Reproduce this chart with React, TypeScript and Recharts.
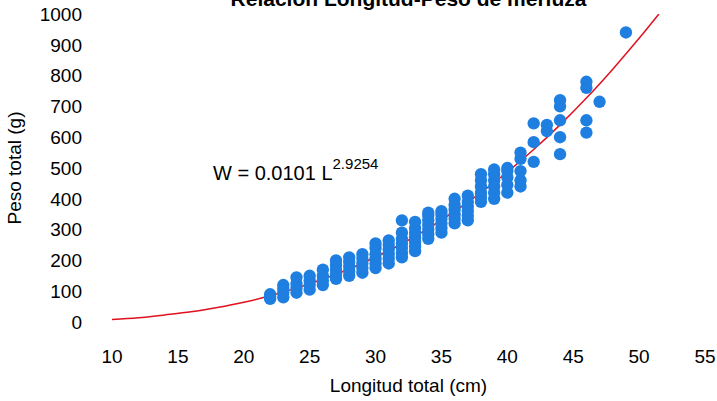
import { ComposedChart, Scatter, Line, XAxis, YAxis, ZAxis } from "recharts";

const lengths = [22, 23, 24, 25, 26, 27, 28, 29, 30, 31, 32, 33, 34, 35, 36, 37, 38, 39, 40, 41, 42, 43, 44, 46, 47, 49];
const weights: number[][] = [
  [75, 82, 90],
  [80, 95, 108, 120],
  [95, 110, 125, 145],
  [105, 120, 135, 150],
  [120, 135, 150, 170],
  [140, 155, 170, 185, 200],
  [150, 165, 180, 195, 210],
  [160, 175, 190, 205, 220],
  [175, 190, 205, 220, 240, 255],
  [190, 205, 220, 235, 250, 265],
  [210, 225, 240, 255, 270, 290, 330],
  [230, 245, 260, 275, 290, 305, 325],
  [270, 285, 300, 315, 330, 345, 355],
  [290, 305, 320, 335, 350, 360],
  [320, 335, 350, 365, 380, 400],
  [330, 345, 360, 375, 390, 410],
  [390, 405, 420, 440, 460, 480],
  [400, 420, 440, 460, 480, 495],
  [420, 445, 470, 490, 500],
  [440, 460, 490, 530, 550],
  [520, 584, 645],
  [620, 640],
  [545, 600, 655, 700, 720],
  [615, 655, 760, 780],
  [715],
  [940],
];
const points = lengths.flatMap((l, i) => weights[i].map((w) => ({ x: l, y: w })));

const curveX = [10, 12, 14, 16, 18, 20, 22, 24, 26, 28, 30, 32, 34, 36, 38, 40, 42, 44, 46, 48, 50, 51.5];
const curveY = [8, 14, 23, 33, 47, 64, 85, 110, 139, 172, 211, 254, 304, 359, 420, 487, 560, 640, 727, 821, 921, 1000];
const curve = curveX.map((x, i) => ({ x, y: curveY[i] }));

const xTicks = [10, 15, 20, 25, 30, 35, 40, 45, 50, 55];
const yTicks = [0, 100, 200, 300, 400, 500, 600, 700, 800, 900, 1000];

const font = "Arial, 'Liberation Sans', sans-serif";

export default function App() {
  return (
    <div style={{ position: "absolute", left: 0, top: 0, width: 717, height: 401, background: "#fff", fontFamily: font, overflow: "hidden" }}>
      <div style={{ position: "absolute", top: -13, left: 0, width: 717, paddingLeft: 100, textAlign: "center", fontWeight: "bold", fontSize: 21, boxSizing: "border-box" }}>
        Relación Longitud-Peso de merluza
      </div>
      <ComposedChart width={717} height={401} margin={{ top: 14, right: 12, bottom: 9, left: 0 }}>
        <XAxis
          type="number"
          dataKey="x"
          domain={[10, 55]}
          ticks={xTicks}
          allowDataOverflow
          height={70}
          axisLine={false}
          tickLine={false}
          tick={{ fill: "#000", fontSize: 19, fontFamily: font, dy: 20 }}
          label={{ value: "Longitud total (cm)", position: "insideBottom", offset: 0, fill: "#000", fontSize: 19, fontFamily: font }}
        />
        <YAxis
          type="number"
          dataKey="y"
          domain={[0, 1000]}
          ticks={yTicks}
          allowDataOverflow
          width={112}
          axisLine={false}
          tickLine={false}
          tick={{ fill: "#000", fontSize: 19, fontFamily: font, dx: -22 }}
          label={{ value: "Peso total (g)", angle: -90, position: "insideLeft", offset: 14, fill: "#000", fontSize: 19, fontFamily: font, style: { textAnchor: "middle" } }}
        />
        <ZAxis range={[120, 120]} />
        <Scatter data={points} fill="#1f7fe0" isAnimationActive={false} />
        <Line data={curve} dataKey="y" type="monotone" stroke="#e0101e" strokeWidth={1.5} dot={false} isAnimationActive={false} />
      </ComposedChart>
      <div style={{ position: "absolute", left: 213, top: 158, fontSize: 20 }}>
        W = 0.0101 L<sup style={{ fontSize: 15, position: "relative", top: -3 }}>2.9254</sup>
      </div>
    </div>
  );
}
